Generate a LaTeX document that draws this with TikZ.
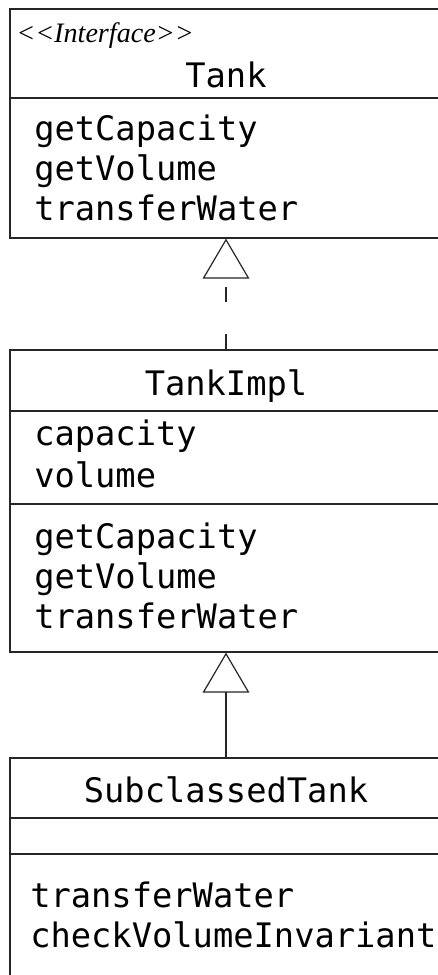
\documentclass[tikz,border=0pt]{standalone}
\usepackage{fontspec}
\setmainfont{Liberation Serif}
\newfontfamily\umlmono{DejaVu Sans Mono}
\usetikzlibrary{arrows.meta,fit}
\begin{document}
\begin{tikzpicture}[x=0.75pt,y=-0.75pt,
  classbox/.style={draw=black!85,line width=0.9pt,inner sep=0pt},
  sep/.style={draw=black!85,line width=0.9pt},
  txt/.style={inner sep=0pt,anchor=base west,font=\umlmono\fontsize{25.3pt}{30pt}\selectfont},
  ttl/.style={inner sep=0pt,anchor=base,font=\umlmono\fontsize{25.3pt}{30pt}\selectfont},
  stereo/.style={inner sep=0pt,anchor=base west,font=\itshape\fontsize{21.1pt}{24pt}\selectfont},
  gen/.style={draw=black!85,line width=0.9pt,-{Triangle[open,length=30pt,width=35pt,line width=0.9pt]}},
  real/.style={gen,dash pattern=on 11.25pt off 24pt}]
\useasboundingbox (0,0) rectangle (438,975);
\clip (0,0) rectangle (438,975);
\fill[white] (0,0) rectangle (438,975);
% Tank
\node[classbox,fit={(10,9) (442,238)}] (tank) {};
\draw[sep] (10,98) -- (442,98);
\node[stereo] (tankst) at (16,42) {<{}<Interface>{}>};
\node[ttl] (tankname) at (226,87) {Tank};
\node[txt] (tm1) at (34,140) {getCapacity};
\node[txt] (tm2) at (34,180) {getVolume};
\node[txt] (tm3) at (34,220) {transferWater};
% TankImpl
\node[classbox,fit={(10,350) (442,652)}] (impl) {};
\draw[sep] (10,411) -- (442,411);
\draw[sep] (10,504) -- (442,504);
\node[ttl] (implname) at (226,395) {TankImpl};
\node[txt] (ia1) at (34,445) {capacity};
\node[txt] (ia2) at (34,487) {volume};
\node[txt] (im1) at (34,548) {getCapacity};
\node[txt] (im2) at (34,588) {getVolume};
\node[txt] (im3) at (34,628) {transferWater};
% SubclassedTank
\node[classbox,fit={(10,758) (442,1000)}] (sub) {};
\draw[sep] (10,818) -- (442,818);
\draw[sep] (10,854) -- (442,854);
\node[ttl] (subname) at (226,802) {SubclassedTank};
\node[txt] (sm1) at (30,907) {transferWater};
\node[txt] (sm2) at (30,947) {checkVolumeInvariant};
% connectors
\draw[real] (impl.north) -- (tank.south);
\draw[gen] (sub.north) -- (impl.south);
\end{tikzpicture}
\end{document}
